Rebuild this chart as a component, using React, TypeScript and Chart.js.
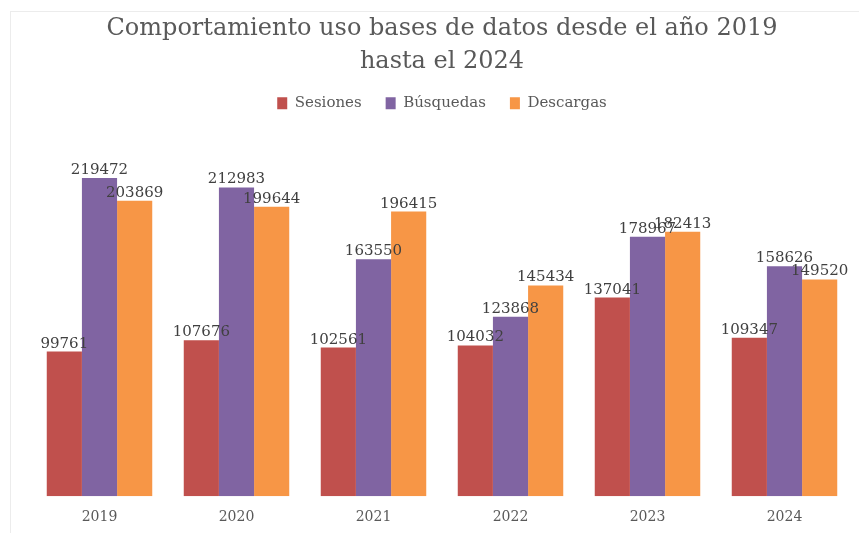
import React, { useEffect, useRef } from "react";
import { Chart, registerables } from "chart.js";

Chart.register(...registerables);

const categories = ["2019", "2020", "2021", "2022", "2023", "2024"];
const sesiones = [99761, 107676, 102561, 104032, 137041, 109347];
const busquedas = [219472, 212983, 163550, 123868, 178967, 158626];
const descargas = [203869, 199644, 196415, 145434, 182413, 149520];
const titleLines = ["Comportamiento uso bases de datos desde el año 2019", "hasta el 2024"];

const FONT = "'DejaVu Serif', serif";

const labelPlugin = {
  id: "barLabels",
  afterDatasetsDraw(chart: any) {
    const ctx = chart.ctx;
    ctx.save();
    ctx.font = `15px ${FONT}`;
    ctx.fillStyle = "#404040";
    ctx.textAlign = "center";
    ctx.textBaseline = "alphabetic";
    chart.data.datasets.forEach((ds: any, i: number) => {
      const meta = chart.getDatasetMeta(i);
      meta.data.forEach((bar: any, j: number) => {
        ctx.fillText(String(ds.data[j]), bar.x, bar.y - 4);
      });
    });
    ctx.restore();
  },
};

export default function App() {
  const ref = useRef<HTMLCanvasElement>(null);
  useEffect(() => {
    if (!ref.current) return;
    const chart = new Chart(ref.current, {
      type: "bar",
      data: {
        labels: categories,
        datasets: [
          { label: "Sesiones", data: sesiones, backgroundColor: "#C0504D" },
          { label: "Búsquedas", data: busquedas, backgroundColor: "#8064A2" },
          { label: "Descargas", data: descargas, backgroundColor: "#F79646" },
        ],
      },
      options: {
        responsive: false,
        animation: false,
        layout: { padding: { left: 31, right: 6, top: 13, bottom: 2 } },
        datasets: { bar: { categoryPercentage: 0.77, barPercentage: 1 } },
        scales: {
          x: {
            grid: { display: false },
            border: { display: false },
            ticks: { color: "#595959", font: { family: FONT, size: 14 }, padding: 5 },
          },
          y: { display: false, min: 0, max: 259000 },
        },
        plugins: {
          title: {
            display: true,
            text: titleLines,
            color: "#595959",
            font: { family: FONT, size: 24, weight: "normal", lineHeight: 1.35 },
            padding: { top: 0, bottom: -6 },
          },
          legend: {
            display: true,
            labels: {
              color: "#595959",
              font: { family: FONT, size: 15 },
              boxWidth: 10,
              boxHeight: 12,
              padding: 24,
            },
          },
          tooltip: { enabled: false },
        },
      },
      plugins: [labelPlugin],
    });
    return () => chart.destroy();
  }, []);
  return (
    <div style={{ position: "fixed", left: 0, top: 0, width: 859, height: 533, background: "#fff" }}>
      <div style={{ position: "absolute", left: 10, top: 11, right: 0, bottom: 0, borderTop: "1px solid #ececec", borderLeft: "1px solid #ececec" }} />
      <canvas ref={ref} width={859} height={533} style={{ position: "absolute", left: 0, top: 0 }} />
    </div>
  );
}
